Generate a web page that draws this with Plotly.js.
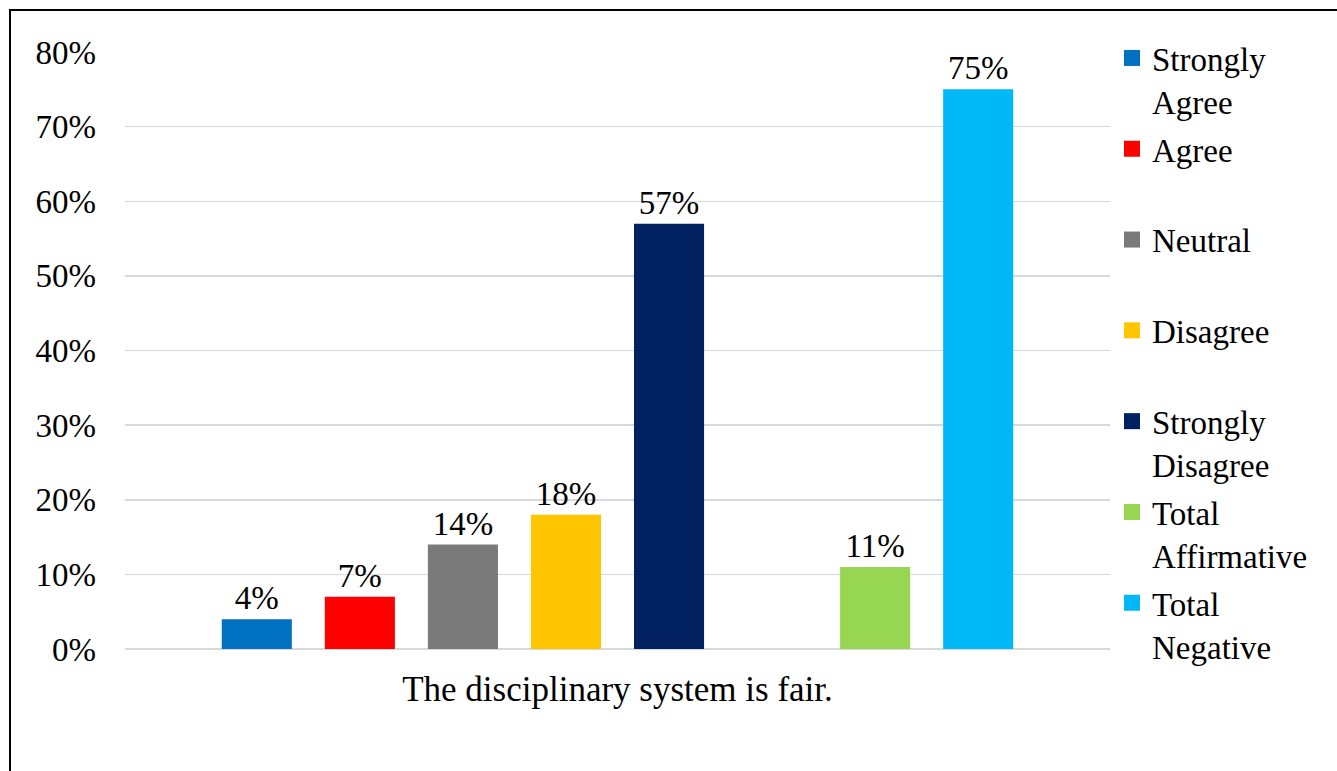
<!DOCTYPE html>
<html>
<head>
<meta charset="utf-8">
<script src="https://cdn.plot.ly/plotly-3.0.1.min.js"></script>
<style>
  html, body { margin: 0; padding: 0; background: #fff; overflow: hidden; }
  #chart { position: absolute; left: 0; top: 0; width: 1337px; height: 771px; }
  #frame { position: absolute; left: 9px; top: 9px; width: 2000px; height: 2000px;
           border-left: 2px solid #000; border-top: 2px solid #000; pointer-events: none; }
</style>
</head>
<body>
<div id="chart"></div>
<div id="frame"></div>
<script>
const category = ["The disciplinary system is fair."];
const seriesNames = ["Strongly Agree", "Agree", "Neutral", "Disagree", "Strongly Disagree", "Total Affirmative", "Total Negative"];
const legendLabels = ["Strongly<br>Agree", "Agree<br>\u00a0", "Neutral<br>\u00a0", "Disagree<br>\u00a0", "Strongly<br>Disagree", "Total<br>Affirmative", "Total<br>Negative"];
const seriesValues = [0.04, 0.07, 0.14, 0.18, 0.57, 0.11, 0.75];
const seriesColors = ["#0070C0", "#FF0000", "#7A7A7A", "#FFC600", "#002060", "#96D652", "#00B8F6"];
const yTickVals = [0, 0.1, 0.2, 0.3, 0.4, 0.5, 0.6, 0.7, 0.8];

const FONT = "Liberation Serif, Times New Roman, serif";
const FS = 33;

const traces = [];
// bars (gap slot between the five answers and the two totals)
const barOrder = [0, 1, 2, 3, 4, null, 5, 6];
barOrder.forEach(function (i) {
  if (i === null) {
    traces.push({ type: "bar", x: category, y: [null], name: "gap", showlegend: false,
                  hoverinfo: "skip", marker: { color: "rgba(0,0,0,0)" } });
  } else {
    traces.push({
      type: "bar", x: category, y: [seriesValues[i]], name: seriesNames[i],
      marker: { color: seriesColors[i], line: { width: 0 } },
      texttemplate: "%{y:.0%}", textposition: "outside", constraintext: "none",
      cliponaxis: false, textfont: { family: FONT, size: FS, color: "#000" },
      showlegend: false
    });
  }
});
// legend entries
seriesNames.forEach(function (n, i) {
  traces.push({
    type: "scatter", mode: "markers", x: [null], y: [null], name: legendLabels[i],
    legendgroup: "g" + i, hoverinfo: "skip",
    marker: { symbol: "square", size: 16, color: seriesColors[i] }
  });
});

const layout = {
  width: 1337, height: 771,
  margin: { l: 125, r: 227, t: 52, b: 122, pad: 0 },
  paper_bgcolor: "#fff", plot_bgcolor: "#fff",
  font: { family: FONT, size: FS, color: "#000" },
  barmode: "group", bargap: 0.163, bargroupgap: 0.32,
  showlegend: true,
  legend: {
    xref: "container", yref: "container", x: 1112 / 1337, y: 1 - 30 / 771,
    xanchor: "left", yanchor: "top", valign: "top", tracegroupgap: 2,
    maxheight: 760,
    font: { family: FONT, size: FS, color: "#000" }, bgcolor: "rgba(0,0,0,0)"
  },
  xaxis: {
    type: "category", showgrid: false, showline: false, ticks: "", zeroline: false,
    ticklabelstandoff: 16, tickfont: { family: FONT, size: 35, color: "#000" }
  },
  yaxis: {
    range: [0, 0.8], tickvals: yTickVals, tickformat: ".0%",
    showgrid: true, gridcolor: "#d9d9d9", gridwidth: 1.5,
    zeroline: true, zerolinecolor: "#d9d9d9", zerolinewidth: 1.5,
    showline: false, ticks: "", ticklabelstandoff: 28,
    tickfont: { family: FONT, size: FS, color: "#000" }
  }
};

Plotly.newPlot("chart", traces, layout, { displayModeBar: false, staticPlot: true });
</script>
</body>
</html>
